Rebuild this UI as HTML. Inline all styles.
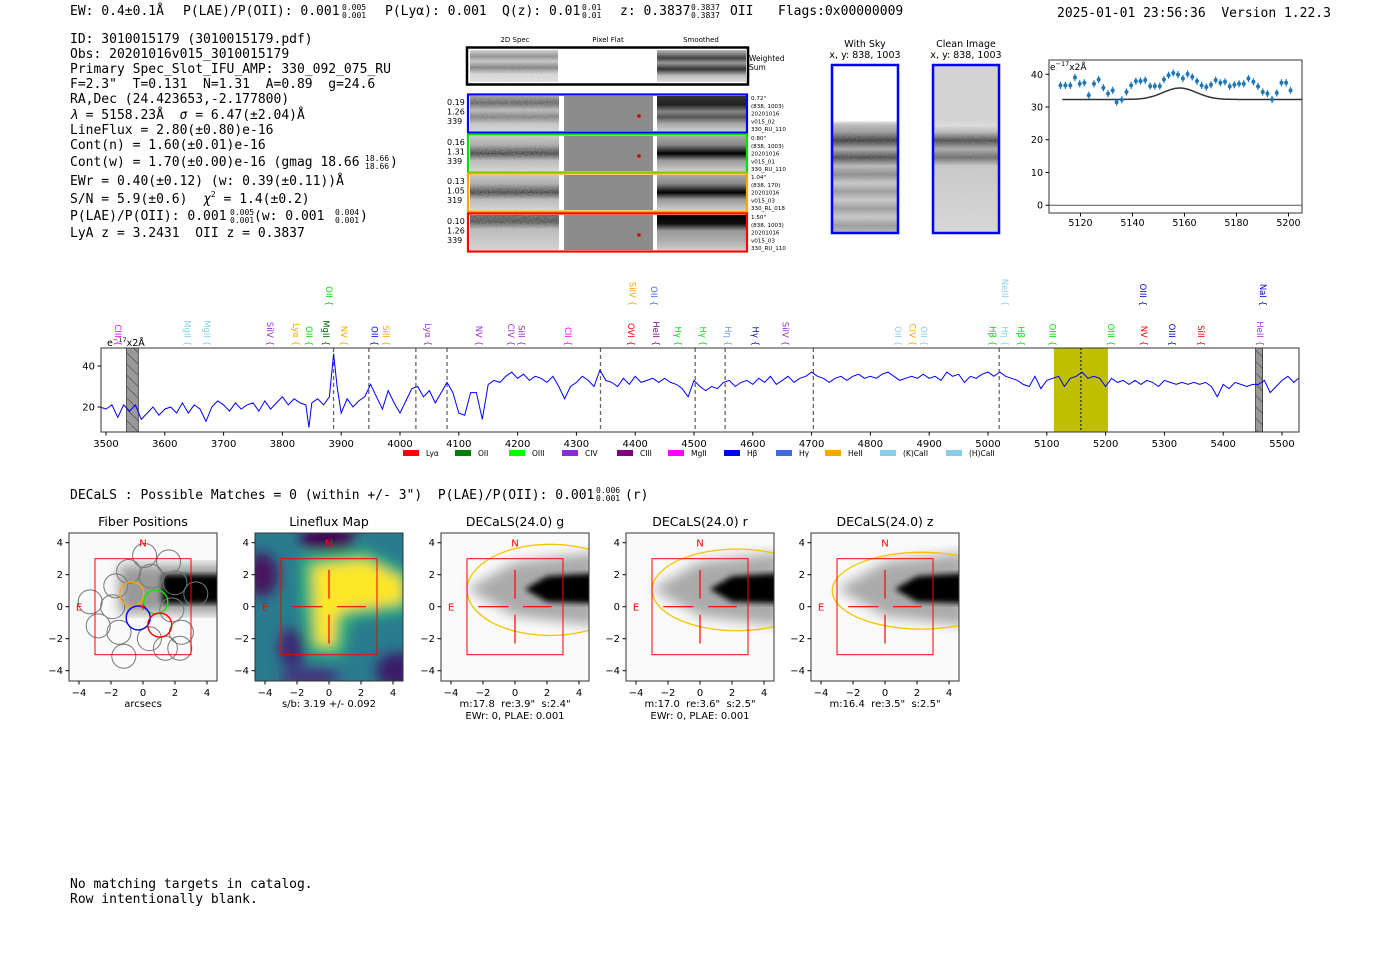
<!DOCTYPE html>
<html><head><meta charset="utf-8"><style>
html,body{margin:0;padding:0;background:#fff;width:1400px;height:953px;overflow:hidden}
svg{display:block}
.m{font-family:"DejaVu Sans Mono","Liberation Mono",monospace;font-size:13px;white-space:pre}
.sm{font-size:8px}
.s{font-family:"DejaVu Sans","Liberation Sans",sans-serif}
</style></head><body>
<svg id="root" width="1400" height="953" viewBox="0 0 1400 953" xmlns="http://www.w3.org/2000/svg" xml:space="preserve">
<defs>
<filter id="noise" x="0" y="0" width="100%" height="100%"><feTurbulence type="fractalNoise" baseFrequency="0.6" numOctaves="2" seed="3"/><feColorMatrix type="matrix" values="0 0 0 0 0.5  0 0 0 0 0.5  0 0 0 0 0.5  0 0 0 -1.2 1.1"/></filter>
<filter id="blur3"><feGaussianBlur stdDeviation="3"/></filter>
<filter id="blur6"><feGaussianBlur stdDeviation="6"/></filter>
<linearGradient id="gW" x1="0" y1="0" x2="0" y2="1"><stop offset="0" stop-color="#ddd"/><stop offset="0.2" stop-color="#888"/><stop offset="0.35" stop-color="#ccc"/><stop offset="0.55" stop-color="#777"/><stop offset="0.75" stop-color="#ddd"/><stop offset="1" stop-color="#eee"/></linearGradient>
<linearGradient id="gWs" x1="0" y1="0" x2="0" y2="1"><stop offset="0" stop-color="#bbb"/><stop offset="0.25" stop-color="#444"/><stop offset="0.4" stop-color="#999"/><stop offset="0.6" stop-color="#333"/><stop offset="0.8" stop-color="#bbb"/><stop offset="1" stop-color="#ddd"/></linearGradient>
<linearGradient id="g1" x1="0" y1="0" x2="0" y2="1"><stop offset="0" stop-color="#999"/><stop offset="0.2" stop-color="#555"/><stop offset="0.4" stop-color="#bbb"/><stop offset="0.6" stop-color="#777"/><stop offset="0.8" stop-color="#ccc"/><stop offset="1" stop-color="#ddd"/></linearGradient>
<linearGradient id="g1s" x1="0" y1="0" x2="0" y2="1"><stop offset="0" stop-color="#333"/><stop offset="0.25" stop-color="#222"/><stop offset="0.45" stop-color="#888"/><stop offset="0.6" stop-color="#555"/><stop offset="0.8" stop-color="#aaa"/><stop offset="1" stop-color="#ccc"/></linearGradient>
<linearGradient id="g2" x1="0" y1="0" x2="0" y2="1"><stop offset="0" stop-color="#ccc"/><stop offset="0.25" stop-color="#aaa"/><stop offset="0.5" stop-color="#333"/><stop offset="0.7" stop-color="#bbb"/><stop offset="1" stop-color="#ddd"/></linearGradient>
<linearGradient id="g2s" x1="0" y1="0" x2="0" y2="1"><stop offset="0" stop-color="#aaa"/><stop offset="0.25" stop-color="#888"/><stop offset="0.5" stop-color="#000"/><stop offset="0.7" stop-color="#999"/><stop offset="1" stop-color="#ccc"/></linearGradient>
<linearGradient id="g4" x1="0" y1="0" x2="0" y2="1"><stop offset="0" stop-color="#555"/><stop offset="0.2" stop-color="#444"/><stop offset="0.4" stop-color="#bbb"/><stop offset="0.7" stop-color="#ccc"/><stop offset="1" stop-color="#ddd"/></linearGradient>
<linearGradient id="g4s" x1="0" y1="0" x2="0" y2="1"><stop offset="0" stop-color="#000"/><stop offset="0.25" stop-color="#111"/><stop offset="0.45" stop-color="#999"/><stop offset="0.7" stop-color="#aaa"/><stop offset="1" stop-color="#ccc"/></linearGradient>
<linearGradient id="gSky" x1="0" y1="0" x2="0" y2="1"><stop offset="0" stop-color="#fff"/><stop offset="0.33" stop-color="#fff"/><stop offset="0.36" stop-color="#bbb"/><stop offset="0.4" stop-color="#999"/><stop offset="0.45" stop-color="#333"/><stop offset="0.5" stop-color="#aaa"/><stop offset="0.55" stop-color="#444"/><stop offset="0.6" stop-color="#bbb"/><stop offset="0.65" stop-color="#888"/><stop offset="0.7" stop-color="#ccc"/><stop offset="0.75" stop-color="#999"/><stop offset="0.8" stop-color="#ccc"/><stop offset="0.85" stop-color="#999"/><stop offset="0.9" stop-color="#ccc"/><stop offset="0.95" stop-color="#999"/><stop offset="1" stop-color="#bbb"/></linearGradient>
<linearGradient id="gClean" x1="0" y1="0" x2="0" y2="1"><stop offset="0" stop-color="#d3d3d3"/><stop offset="0.33" stop-color="#d3d3d3"/><stop offset="0.36" stop-color="#e4e4e4"/><stop offset="0.4" stop-color="#bbb"/><stop offset="0.45" stop-color="#444"/><stop offset="0.5" stop-color="#aaa"/><stop offset="0.55" stop-color="#666"/><stop offset="0.6" stop-color="#ccc"/><stop offset="1" stop-color="#ddd"/></linearGradient>
<clipPath id="specClip"><rect x="101" y="348" width="1198" height="84"/></clipPath>
<pattern id="hatch" width="8" height="8" patternUnits="userSpaceOnUse" patternTransform="rotate(-45)"><rect width="8" height="8" fill="#999"/><line x1="0" y1="0" x2="0" y2="8" stroke="#333" stroke-width="1"/></pattern>
</defs>

<g>
<text class="m" x="70" y="15">EW: 0.4±0.1Å</text>
<text class="m" x="183" y="15">P(LAE)/P(OII): 0.001</text>
<text class="m sm" x="342" y="10">0.005</text><text class="m sm" x="342" y="18">0.001</text>
<text class="m" x="385" y="15">P(Lyα): 0.001</text>
<text class="m" x="502" y="15">Q(z): 0.01</text>
<text class="m sm" x="582" y="10">0.01</text><text class="m sm" x="582" y="18">0.01</text>
<text class="m" x="620" y="15">z: 0.3837</text>
<text class="m sm" x="691" y="10">0.3837</text><text class="m sm" x="691" y="18">0.3837</text>
<text class="m" x="730" y="15">OII</text>
<text class="m" x="778" y="15">Flags:0x00000009</text>
<text class="m" x="1057" y="17">2025-01-01 23:56:36  Version 1.22.3</text>
</g>

<g>
<text class="m" x="70" y="43">ID: 3010015179 (3010015179.pdf)</text>
<text class="m" x="70" y="58">Obs: 20201016v015_3010015179</text>
<text class="m" x="70" y="73">Primary Spec_Slot_IFU_AMP: 330_092_075_RU</text>
<text class="m" x="70" y="88">F=2.3"  T=0.131  N=1.31  A=0.89  g=24.6</text>
<text class="m" x="70" y="103">RA,Dec (24.423653,-2.177800)</text>
<text class="m" x="70" y="119"><tspan font-style="italic">λ</tspan> = 5158.23Å  <tspan font-style="italic">σ</tspan> = 6.47(±2.04)Å</text>
<text class="m" x="70" y="134">LineFlux = 2.80(±0.80)e-16</text>
<text class="m" x="70" y="149">Cont(n) = 1.60(±0.01)e-16</text>
<text class="m" x="70" y="166">Cont(w) = 1.70(±0.00)e-16 (gmag 18.66</text>
<text class="m sm" x="365" y="161">18.66</text><text class="m sm" x="365" y="169">18.66</text>
<text class="m" x="390" y="166">)</text>
<text class="m" x="70" y="185">EWr = 0.40(±0.12) (w: 0.39(±0.11))Å</text>
<text class="m" x="70" y="203">S/N = 5.9(±0.6)  <tspan font-style="italic">χ</tspan><tspan font-size="8" dy="-6">2</tspan><tspan dy="6"> = 1.4(±0.2)</tspan></text>
<text class="m" x="70" y="220">P(LAE)/P(OII): 0.001</text>
<text class="m sm" x="230" y="215">0.005</text><text class="m sm" x="230" y="223">0.001</text>
<text class="m" x="254" y="220">(w: 0.001</text>
<text class="m sm" x="335" y="215">0.004</text><text class="m sm" x="335" y="223">0.001</text>
<text class="m" x="360" y="220">)</text>
<text class="m" x="70" y="237">LyA z = 3.2431  OII z = 0.3837</text>
</g>

<g id="cutouts">
<text class="s" font-size="7" x="515" y="42" text-anchor="middle">2D Spec</text>
<text class="s" font-size="7" x="608" y="42" text-anchor="middle">Pixel Flat</text>
<text class="s" font-size="7" x="701" y="42" text-anchor="middle">Smoothed</text>
<g>
<rect x="470" y="50" width="88" height="32" fill="url(#gW)"/>
<rect x="470" y="50" width="88" height="32" filter="url(#noise)" opacity="0.5"/>
<rect x="657" y="50" width="89" height="32" fill="url(#gWs)"/>
<rect x="467" y="47.5" width="281" height="37" fill="none" stroke="#000" stroke-width="2.5"/>
<text class="s" font-size="7.5" x="749" y="61">Weighted</text><text class="s" font-size="7.5" x="749" y="70">Sum</text>
</g>
</g>

<g>
<text class="s" font-size="9.5" x="865" y="47" text-anchor="middle">With Sky</text>
<text class="s" font-size="9.5" x="865" y="58" text-anchor="middle">x, y: 838, 1003</text>
<rect x="831" y="64" width="68" height="170" fill="url(#gSky)"/>
<rect x="831" y="122" width="68" height="112" filter="url(#noise)" opacity="0.35"/>
<rect x="832" y="65" width="66" height="168" fill="none" stroke="#0000ff" stroke-width="2.5"/>
</g>
<g>
<text class="s" font-size="9.5" x="966" y="47" text-anchor="middle">Clean Image</text>
<text class="s" font-size="9.5" x="966" y="58" text-anchor="middle">x, y: 838, 1003</text>
<rect x="932" y="64" width="68" height="170" fill="url(#gClean)"/>
<rect x="932" y="122" width="68" height="112" filter="url(#noise)" opacity="0.35"/>
<rect x="933" y="65" width="66" height="168" fill="none" stroke="#0000ff" stroke-width="2.5"/>
</g>

<g id="zoomPlot"></g>
<g id="specPlot"></g>

<text class="m" x="70" y="499">DECaLS : Possible Matches = 0 (within +/- 3")  P(LAE)/P(OII): 0.001</text>
<text class="m sm" x="596" y="493">0.006</text><text class="m sm" x="596" y="501">0.001</text>
<text class="m" x="625" y="499">(r)</text>

<g id="panels"></g>

<text class="m" x="70" y="888">No matching targets in catalog.</text>
<text class="m" x="70" y="903">Row intentionally blank.</text>
</svg>

<script>
const specWave = [3490,3500,3510,3520,3530,3540,3550,3560,3570,3580,3590,3600,3610,3620,3630,3640,3650,3660,3670,3680,3690,3700,3710,3720,3730,3740,3750,3760,3770,3780,3790,3800,3810,3820,3830,3840,3845,3850,3860,3870,3880,3887,3893,3900,3910,3920,3930,3940,3950,3960,3970,3980,3990,4000,4010,4020,4030,4040,4050,4060,4070,4080,4090,4100,4110,4120,4130,4140,4150,4160,4170,4180,4190,4200,4210,4220,4230,4240,4250,4260,4270,4280,4290,4300,4310,4320,4330,4340,4350,4360,4370,4380,4390,4400,4410,4420,4430,4440,4450,4460,4470,4480,4490,4500,4510,4520,4530,4540,4550,4560,4570,4580,4590,4600,4610,4620,4630,4640,4650,4660,4670,4680,4690,4700,4710,4720,4730,4740,4750,4760,4770,4780,4790,4800,4810,4820,4830,4840,4850,4860,4870,4880,4890,4900,4910,4920,4930,4940,4950,4960,4970,4980,4990,5000,5010,5020,5030,5040,5050,5060,5070,5080,5090,5100,5110,5120,5130,5140,5150,5160,5170,5180,5190,5200,5210,5220,5230,5240,5250,5260,5270,5280,5290,5300,5310,5320,5330,5340,5350,5360,5370,5380,5390,5400,5410,5420,5430,5440,5450,5460,5470,5480,5490,5500,5510,5520,5528];
const specFlux = [20,19,21,15,21,18,21,14,17,20,16,19,20,17,22,17,21,19,13,20,23,21,18,22,19,21,22,18,23,19,22,25,21,24,22,21,10,22,24,21,25,46,30,17,24,20,23,25,31,25,19,28,22,17,23,29,30,25,28,22,27,32,27,17,16,27,27,14,31,33,32,35,37,34,36,33,35,34,32,35,30,24,30,32,35,33,30,38,33,32,30,34,31,35,32,33,34,32,34,32,31,29,25,33,30,28,30,29,32,33,30,32,33,31,34,32,35,31,33,35,32,34,35,37,35,34,32,34,35,33,35,36,34,35,34,36,37,35,33,34,35,34,36,34,35,33,37,35,36,32,35,34,36,37,35,37,35,34,33,31,30,35,29,33,34,35,30,34,35,37,34,35,34,30,34,32,33,31,33,31,33,32,30,33,32,31,32,31,32,31,32,30,25,31,29,32,31,30,31,31,33,27,30,33,35,32,34];
const specXTicks = [3500,3600,3700,3800,3900,4000,4100,4200,4300,4400,4500,4600,4700,4800,4900,5000,5100,5200,5300,5400,5500];
const specYTicks = [20,40];
const dashedLines = [3887,3947,4027,4080,4341,4502,4553,4703,5019];
const maskBands = [[3535,3555],[5455,5467]];
const fitBand = [5112,5204];
const fitCenter = 5158;
const lineNames = ["CIII","MgII","MgII","SiIV","Lyα","OII","MgII","NV","OII","SiII","Lyα","NV","CIV","SiII","CII","OVI","HeII","Hγ","Hγ","Hη","Hγ","SiIV","OII","CIV","OII","Hβ","Hη","Hβ","OIII","OIII","NV","OIII","SiII","HeII","OII","SiIV","OII","NeIII","OIII","NaI"];
const lineWaves = [3520,3639,3672,3779,3823,3845,3874,3905,3957,3976,4048,4134,4189,4207,4286,4393,4435,4473,4515,4558,4605,4656,4847,4872,4891,5008,5029,5056,5110,5209,5265,5313,5362,5463,3879,4395,4432,5029,5264,5468];
const lineRows = [0,0,0,0,0,0,0,0,0,0,0,0,0,0,0,0,0,0,0,0,0,0,0,0,0,0,0,0,0,0,0,0,0,0,1,1,1,1,1,1];
const lineColors = ["#ff00ff","#87ceeb","#87ceeb","#9932cc","#ffa500","#00dd00","#006400","#ffa500","#0000ff","#ffa500","#9932cc","#9932cc","#9932cc","#9932cc","#ff00ff","#ff0000","#8b008b","#00dd00","#00dd00","#6495ed","#0000cd","#9932cc","#87ceeb","#ffa500","#87ceeb","#00dd00","#87ceeb","#00dd00","#00dd00","#00dd00","#ff0000","#0000cd","#ff0000","#9932cc","#00dd00","#ffa500","#4169e1","#87ceeb","#0000cd","#0000cd"];
const legendNames = ["Lyα","OII","OIII","CIV","CIII","MgII","Hβ","Hγ","HeII","(K)CaII","(H)CaII"];
const legendColors = ["#ff0000","#008000","#00ff00","#8a2be2","#800080","#ff00ff","#0000ff","#4169e1","#ffa500","#87ceeb","#87ceeb"];
const legendX = [403,455,509,562,617,668,724,776,825,880,946];

const fitWave = [5112.3,5114.2,5116.1,5117.9,5119.7,5121.5,5123.2,5125.2,5127.0,5128.8,5130.6,5132.4,5133.9,5135.9,5137.7,5139.5,5141.3,5143.1,5144.9,5146.8,5148.6,5150.5,5152.1,5153.9,5155.7,5157.5,5159.4,5161.2,5163.0,5164.8,5166.6,5168.4,5170.2,5172.0,5173.8,5175.6,5177.4,5179.2,5181.0,5182.8,5184.6,5186.5,5188.3,5190.1,5191.9,5193.7,5195.5,5197.3,5199.1,5200.8];
const fitFlux = [36.6,36.6,36.6,39.0,37.1,37.4,33.6,37.1,38.4,35.9,34.1,35.1,31.5,32.2,34.6,36.6,37.9,37.9,38.2,36.4,36.4,36.4,38.4,39.7,40.4,39.9,38.7,40.1,39.2,37.9,36.6,36.1,36.8,38.2,37.4,37.7,36.3,36.8,37.1,37.1,38.7,37.7,36.3,34.6,34.1,32.3,34.3,37.4,37.4,35.1];
const fitErr = [1.1,1.1,1.1,1.1,1.1,1.1,1.1,1.1,1.1,1.1,1.1,1.1,1.1,1.1,1.1,1.1,1.1,1.1,1.1,1.1,1.1,1.1,1.1,1.1,1.1,1.1,1.1,1.1,1.1,1.1,1.1,1.1,1.1,1.1,1.1,1.1,1.1,1.1,1.1,1.1,1.1,1.1,1.1,1.1,1.1,1.1,1.1,1.1,1.1,1.1];
const fitXTicks = [5120,5140,5160,5180,5200];
const fitYTicks = [0,10,20,30,40];
const modelParams = [32.3, 3.5, 5158.2, 6.47];

const rowStats = [["0.19","1.26","339"],["0.16","1.31","339"],["0.13","1.05","319"],["0.10","1.26","339"]];
const rowInfo = [["0.72\"","(838, 1003)","20201016","v015_02","330_RU_110"],["0.80\"","(838, 1003)","20201016","v015_01","330_RU_110"],["1.04\"","(838, 170)","20201016","v015_03","330_RL_018"],["1.50\"","(838, 1003)","20201016","v015_03","330_RU_110"]];

const panelTitles = ["Fiber Positions","Lineflux Map","DECaLS(24.0) g","DECaLS(24.0) r","DECaLS(24.0) z"];
const panelNotes = [["arcsecs"],["s/b: 3.19 +/- 0.092"],["m:17.8  re:3.9\"  s:2.4\"","EWr: 0, PLAE: 0.001"],["m:17.0  re:3.6\"  s:2.5\"","EWr: 0, PLAE: 0.001"],["m:16.4  re:3.5\"  s:2.5\""]];
const ellipseCX = [2.2,2.3,2.3];
const ellipseCY = [1.05,1.05,1.0];
const ellipseA = [5.2,5.3,5.6];
const ellipseB = [2.85,2.55,2.4];
const fiberX = [0.1,1.6,-0.9,0.5,-1.7,2.0,3.3,-3.3,-1.9,1.8,-2.8,-1.5,2.4,0.4,1.4,2.3,-1.2,-0.7,0.8,-0.3,1.05];
const fiberY = [3.2,2.8,2.2,1.9,1.3,1.5,0.8,0.3,0.0,-0.2,-1.2,-1.6,-1.6,-2.0,-2.6,-2.6,-3.1,0.8,0.3,-0.7,-1.15];
const fiberColor = ["#777","#777","#777","#777","#777","#777","#777","#777","#777","#777","#777","#777","#777","#777","#777","#777","#777","#ffa500","#00ee00","#0000ff","#ff0000"];
const axisTicks = [-4,-2,0,2,4];

const NS = "http://www.w3.org/2000/svg";
function mk(parent, tag, attrs, name, inter) {
  const el = document.createElementNS(NS, tag);
  for (const k in attrs) el.setAttribute(k, attrs[k]);
  
  
  parent.appendChild(el);
  return el;
}
function txt(parent, x, y, s, size, name, extra) {
  const a = Object.assign({x: x, y: y, 'font-size': size, class: 's'}, extra || {});
  const t = mk(parent, 'text', a, name, false);
  t.textContent = s;
  return t;
}

(function () {
  const g = document.getElementById('cutouts');
  const tops = [94, 134, 173, 213];
  const cols = ['#0000ff', '#00e000', '#ffa500', '#ff0000'];
  const gr = ['g1', 'g2', 'g2', 'g4'];
  tops.forEach(function (t, i) {
    const h = 39;
    mk(g, 'rect', {x: 470, y: t + 2, width: 89, height: h - 4, fill: 'url(#' + gr[i] + ')'}, 'cutout-2d-spec-' + (i + 1), false);
    mk(g, 'rect', {x: 470, y: t + 2, width: 89, height: h - 4, filter: 'url(#noise)', opacity: 0.55}, 'cutout-noise-' + (i + 1), false);
    mk(g, 'rect', {x: 564, y: t + 2, width: 89, height: h - 4, fill: '#8c8c8c'}, 'cutout-pixel-flat-' + (i + 1), false);
    if (i !== 2) mk(g, 'circle', {cx: 639, cy: t + 22, r: 1.8, fill: '#d00'}, 'flat-marker-' + (i + 1), false);
    mk(g, 'rect', {x: 657, y: t + 2, width: 89, height: h - 4, fill: 'url(#' + gr[i] + 's)'}, 'cutout-smoothed-' + (i + 1), false);
    mk(g, 'rect', {x: 468, y: t + 0.5, width: 279, height: h - 1, fill: 'none', stroke: cols[i], 'stroke-width': 2.2}, 'cutout-row-frame-' + (i + 1), false);
    rowStats[i].forEach(function (s, j) { txt(g, 447, t + 11 + j * 9.5, s, 8, 'row-stat', {}); });
    rowInfo[i].forEach(function (s, j) { txt(g, 751, t + 6 + j * 7.8, s, 5.6, 'row-info', {}); });
  });
})();

(function () {
  const g = document.getElementById('zoomPlot');
  const L = 1049, R = 1302, T = 60, B = 213;
  const xmin = 5107.9, xmax = 5205.2;
  const X = function (w) { return L + (w - xmin) / (xmax - xmin) * (R - L); };
  const Y = function (f) { return 205.2 - f * 3.273; };
  mk(g, 'rect', {x: L, y: T, width: R - L, height: B - T, fill: '#fff', stroke: '#333', 'stroke-width': 1}, 'fit-axes-frame', false);
  mk(g, 'line', {x1: L, x2: R, y1: Y(0), y2: Y(0), stroke: '#555', 'stroke-width': 1}, 'zero-line', false);
  fitYTicks.forEach(function (v) {
    mk(g, 'line', {x1: L - 3.5, x2: L, y1: Y(v), y2: Y(v), stroke: '#000'}, 'fit-y-tick', false);
    txt(g, L - 6, Y(v) + 3.5, String(v), 9.5, 'fit-y-tick-label', {'text-anchor': 'end'});
  });
  fitXTicks.forEach(function (v) {
    mk(g, 'line', {x1: X(v), x2: X(v), y1: B, y2: B + 3.5, stroke: '#000'}, 'fit-x-tick', false);
    txt(g, X(v), B + 13, String(v), 9.5, 'fit-x-tick-label', {'text-anchor': 'middle'});
  });
  const t = txt(g, L + 1, T + 10, 'e', 9, 'fit-unit-label', {});
  const s1 = document.createElementNS(NS, 'tspan'); s1.setAttribute('dy', '-4'); s1.setAttribute('font-size', '6.5'); s1.textContent = '−17'; t.appendChild(s1);
  const s2 = document.createElementNS(NS, 'tspan'); s2.setAttribute('dy', '4'); s2.textContent = 'x2Å'; t.appendChild(s2);
  let d = '';
  for (let w = 5113; w <= 5205; w += 0.5) {
    const f = modelParams[0] + modelParams[1] * Math.exp(-0.5 * Math.pow((w - modelParams[2]) / modelParams[3], 2));
    d += (d ? 'L' : 'M') + X(w).toFixed(1) + ',' + Y(f).toFixed(1);
  }
  mk(g, 'path', {d: d, fill: 'none', stroke: '#333', 'stroke-width': 1.5}, 'fit-model-curve', false);
  fitWave.forEach(function (w, i) {
    const x = X(w), y = Y(fitFlux[i]);
    mk(g, 'line', {x1: x, x2: x, y1: Y(fitFlux[i] - fitErr[i]), y2: Y(fitFlux[i] + fitErr[i]), stroke: '#1f77b4', 'stroke-width': 1.2}, 'fit-error-bar', false);
    mk(g, 'circle', {cx: x, cy: y, r: 2, fill: '#1f77b4'}, 'fit-data-point', false);
  });
})();

(function () {
  const g = document.getElementById('specPlot');
  const L = 101, R = 1299, T = 348, B = 432;
  const X = function (w) { return 106 + (w - 3500) * 0.588; };
  const Y = function (f) { return 448 - f * 2.05; };
  mk(g, 'rect', {x: L, y: T, width: R - L, height: B - T, fill: '#fff'}, 'spectrum-background', false);
  const cg = mk(g, 'g', {'clip-path': 'url(#specClip)'}, 'spectrum-clip-group', false);
  mk(cg, 'rect', {x: X(fitBand[0]), y: T, width: X(fitBand[1]) - X(fitBand[0]), height: B - T, fill: '#bfbf00'}, 'fit-window-band', false);
  maskBands.forEach(function (b) {
    mk(cg, 'rect', {x: X(b[0]), y: T, width: X(b[1]) - X(b[0]), height: B - T, fill: 'url(#hatch)', stroke: '#333', 'stroke-width': 0.8}, 'masked-band', false);
  });
  dashedLines.forEach(function (w) {
    mk(cg, 'line', {x1: X(w), x2: X(w), y1: T, y2: B, stroke: '#666', 'stroke-width': 1.3, 'stroke-dasharray': '4,3'}, 'sky-line-marker', false);
  });
  mk(cg, 'line', {x1: X(fitCenter), x2: X(fitCenter), y1: T, y2: B, stroke: '#000', 'stroke-width': 1, 'stroke-dasharray': '2,2'}, 'line-center-marker', false);
  let d = '';
  specWave.forEach(function (w, i) { d += (i ? 'L' : 'M') + X(w).toFixed(1) + ',' + Y(specFlux[i]).toFixed(1); });
  mk(cg, 'path', {d: d, fill: 'none', stroke: '#0000ff', 'stroke-width': 1}, 'spectrum-line', false);
  mk(g, 'rect', {x: L, y: T, width: R - L, height: B - T, fill: 'none', stroke: '#333', 'stroke-width': 1}, 'spectrum-frame', false);
  specYTicks.forEach(function (v) {
    mk(g, 'line', {x1: L - 3.5, x2: L, y1: Y(v), y2: Y(v), stroke: '#000'}, 'spec-y-tick', false);
    txt(g, L - 6, Y(v) + 3.5, String(v), 10, 'spec-y-tick-label', {'text-anchor': 'end'});
  });
  specXTicks.forEach(function (v) {
    mk(g, 'line', {x1: X(v), x2: X(v), y1: B, y2: B + 3.5, stroke: '#000'}, 'spec-x-tick', false);
    txt(g, X(v), B + 15, String(v), 10, 'spec-x-tick-label', {'text-anchor': 'middle'});
  });
  const t = txt(g, 107, 346, 'e', 9.5, 'spec-unit-label', {});
  const s1 = document.createElementNS(NS, 'tspan'); s1.setAttribute('dy', '-4'); s1.setAttribute('font-size', '6.5'); s1.textContent = '−17'; t.appendChild(s1);
  const s2 = document.createElementNS(NS, 'tspan'); s2.setAttribute('dy', '4'); s2.textContent = 'x2Å'; t.appendChild(s2);
  lineNames.forEach(function (n, i) {
    const x = X(lineWaves[i]) - 3, y = lineRows[i] ? 306 : 346;
    txt(g, 0, 0, n + ' {', 8.5, 'emission-line-label', {fill: lineColors[i], 'text-anchor': 'end', transform: 'translate(' + x.toFixed(1) + ',' + y + ') rotate(90)'});
  });
  legendNames.forEach(function (n, i) {
    mk(g, 'rect', {x: legendX[i], y: 450, width: 16, height: 6, fill: legendColors[i]}, 'legend-swatch', false);
    txt(g, legendX[i] + 23, 456, n, 7.5, 'legend-entry', {});
  });
})();

(function () {
  const g = document.getElementById('panels');
  const lefts = [69, 255, 441, 626, 811];
  const T = 533, S = 148, U = 16;
  lefts.forEach(function (L, p) {
    const cx = L + S / 2, cy = T + 73.7;
    const X = function (v) { return cx + v * U; };
    const Y = function (v) { return cy - v * U; };
    const pts = function (arr) { return arr.map(function (q) { return X(q[0]).toFixed(1) + ',' + Y(q[1]).toFixed(1); }).join(' '); };
    const pg = mk(g, 'g', {}, 'panel-' + (p + 1), false);
    const cid = 'pc' + p;
    const cp = document.createElementNS(NS, 'clipPath'); cp.setAttribute('id', cid);
    const cr = document.createElementNS(NS, 'rect'); cr.setAttribute('x', L); cr.setAttribute('y', T); cr.setAttribute('width', S); cr.setAttribute('height', S);
    cp.appendChild(cr); pg.appendChild(cp);
    const ig = mk(pg, 'g', {'clip-path': 'url(#' + cid + ')'}, 'panel-image', false);
    if (p === 1) {
      mk(ig, 'rect', {x: L, y: T, width: S, height: S, fill: '#2a7b8e'}, 'lineflux-base', false);
      const bl = mk(ig, 'g', {filter: 'url(#blur6)'}, 'lineflux-blobs', false);
      mk(bl, 'ellipse', {cx: X(-0.1), cy: Y(4.2), rx: 28, ry: 12, fill: '#440154'}, 'lineflux-low', false);
      mk(bl, 'ellipse', {cx: X(-4.2), cy: Y(2.0), rx: 16, ry: 22, fill: '#46125f'}, 'lineflux-low', false);
      mk(bl, 'ellipse', {cx: X(4.3), cy: Y(-4.0), rx: 22, ry: 18, fill: '#3b1f6b'}, 'lineflux-low', false);
      mk(bl, 'ellipse', {cx: X(-2.3), cy: Y(-2.6), rx: 14, ry: 20, fill: '#3b2c74'}, 'lineflux-low', false);
      mk(bl, 'ellipse', {cx: X(-1.2), cy: Y(-4.4), rx: 30, ry: 8, fill: '#472c7a'}, 'lineflux-low', false);
      mk(bl, 'polygon', {points: pts([[-1.8,3.2],[2.4,3.6],[5,2.2],[5,-0.4],[1.4,-0.8],[0.9,-3.2],[-1.3,-3.0],[-1.8,0.3]]), fill: '#35b779'}, 'lineflux-mid', false);
      mk(bl, 'polygon', {points: pts([[-1.0,2.5],[2.2,2.9],[4.6,1.7],[4.6,0.3],[1.0,-0.2],[0.4,-0.7],[0.3,-2.5],[-0.8,-2.3],[-0.9,0.3]]), fill: '#fde725'}, 'lineflux-high', false);
    } else {
      mk(ig, 'rect', {x: L, y: T, width: S, height: S, fill: '#fafafa'}, 'image-background', false);
      if (p === 0) {
        mk(ig, 'rect', {x: X(-1.5), y: Y(2.6), width: 120, height: 3.0 * U, fill: '#999', filter: 'url(#blur6)'}, 'galaxy-halo', false);
        mk(ig, 'rect', {x: X(1.2), y: Y(2.0), width: 100, height: 1.8 * U, fill: '#000', filter: 'url(#blur3)'}, 'galaxy-core', false);
      } else {
        mk(ig, 'polygon', {points: pts([[-3,1.1],[0,2.8],[5,3.4],[5,-1.2],[0,-0.6]]), fill: '#aaa', filter: 'url(#blur6)'}, 'galaxy-halo', false);
        mk(ig, 'polygon', {points: pts([[0.6,1.1],[2,1.9],[5,2.1],[5,0.2],[2,0.3]]), fill: '#000', filter: 'url(#blur3)'}, 'galaxy-core', false);
        const e = p - 2;
        mk(ig, 'ellipse', {cx: X(ellipseCX[e]), cy: Y(ellipseCY[e]), rx: ellipseA[e] * U, ry: ellipseB[e] * U, fill: 'none', stroke: '#f5c400', 'stroke-width': 1.3}, 'source-ellipse', false);
      }
    }
    if (p === 0) {
      fiberX.forEach(function (fx, i) {
        mk(ig, 'circle', {cx: X(fx), cy: Y(fiberY[i]), r: 0.75 * U, fill: 'none', stroke: fiberColor[i], 'stroke-width': i > 16 ? 1.4 : 1}, 'fiber-circle', false);
      });
      mk(ig, 'path', {d: 'M' + (cx - 3) + ',' + cy + 'h6M' + cx + ',' + (cy - 3) + 'v6', stroke: '#f00', 'stroke-width': 1}, 'center-mark', false);
    } else {
      const cs = 'M' + X(-2.3) + ',' + cy + 'H' + X(-0.4) + 'M' + X(0.5) + ',' + cy + 'H' + X(2.3) + 'M' + cx + ',' + Y(2.3) + 'V' + Y(0.5) + 'M' + cx + ',' + Y(-0.5) + 'V' + Y(-2.3);
      mk(ig, 'path', {d: cs, stroke: '#f00', 'stroke-width': 1.2, fill: 'none'}, 'crosshair', false);
    }
    mk(ig, 'rect', {x: X(-3), y: Y(3), width: 6 * U, height: 6 * U, fill: 'none', stroke: '#f00', 'stroke-width': 1}, 'aperture-box', false);
    txt(pg, X(0), Y(4) + 4, 'N', 10, 'north-label', {fill: '#f00', 'text-anchor': 'middle'});
    txt(pg, X(-4), Y(0) + 4, 'E', 10, 'east-label', {fill: '#f00', 'text-anchor': 'middle'});
    mk(pg, 'rect', {x: L, y: T, width: S, height: S, fill: 'none', stroke: '#333', 'stroke-width': 1}, 'panel-frame', false);
    axisTicks.forEach(function (v) {
      mk(pg, 'line', {x1: L - 3.5, x2: L, y1: Y(v), y2: Y(v), stroke: '#000'}, 'panel-y-tick', false);
      txt(pg, L - 6, Y(v) + 3.5, v < 0 ? '−' + (-v) : String(v), 10, 'panel-y-tick-label', {'text-anchor': 'end'});
      mk(pg, 'line', {x1: X(v), x2: X(v), y1: T + S, y2: T + S + 3.5, stroke: '#000'}, 'panel-x-tick', false);
      txt(pg, X(v), T + S + 15, v < 0 ? '−' + (-v) : String(v), 10, 'panel-x-tick-label', {'text-anchor': 'middle'});
    });
    txt(pg, cx, T - 7, panelTitles[p], 12.5, 'panel-title', {'text-anchor': 'middle'});
    panelNotes[p].forEach(function (s, j) { txt(pg, cx, T + S + 26 + j * 12, s, 10, 'panel-caption', {'text-anchor': 'middle', style: 'white-space:pre'}); });
  });
})();
</script>
</body></html>
